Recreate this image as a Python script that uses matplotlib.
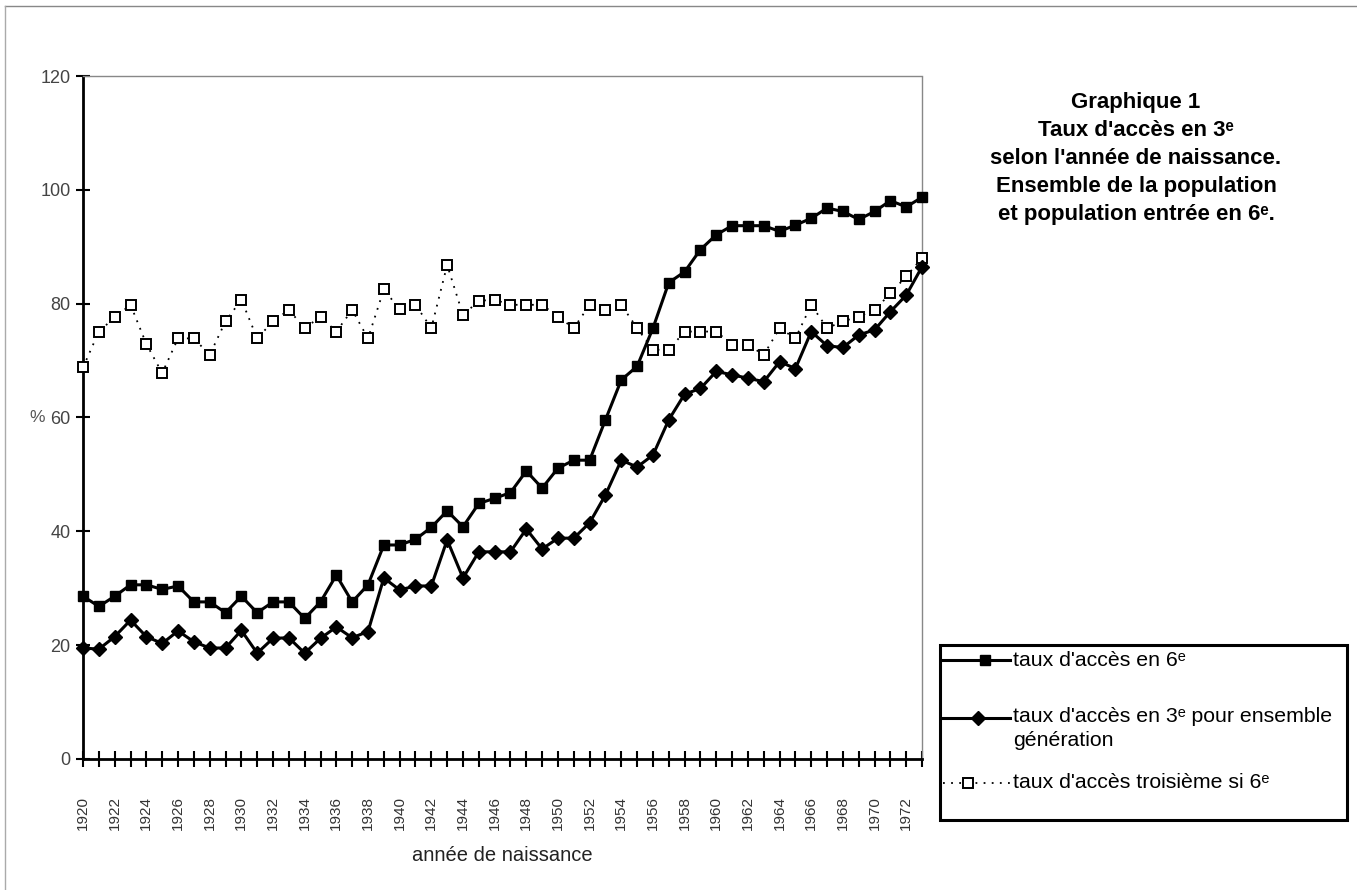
import matplotlib
matplotlib.use("Agg")
import matplotlib.pyplot as plt
from matplotlib.lines import Line2D
from matplotlib.patches import Rectangle

plt.rcParams['font.family'] = ['Liberation Sans', 'DejaVu Sans']

# annees de naissance
annees = list(range(1920, 1974))

# taux d'acces en 6e
acces_6e = [28.6, 26.8, 28.6, 30.6, 30.6, 29.8, 30.4, 27.6, 27.6, 25.7,
            28.6, 25.7, 27.6, 27.6, 24.7, 27.6, 32.3, 27.6, 30.6, 37.6,
            37.6, 38.6, 40.7, 43.6, 40.8, 44.9, 45.8, 46.8, 50.6, 47.6,
            51.1, 52.5, 52.5, 59.6, 66.6, 69.0, 75.7, 83.7, 85.6, 89.5,
            92.1, 93.7, 93.7, 93.7, 92.7, 93.8, 95.0, 96.8, 96.2, 94.8,
            96.2, 98.1, 97.0, 98.7]

# taux d'acces en 3e pour l'ensemble de la generation
acces_3e = [19.5, 19.3, 21.5, 24.4, 21.5, 20.3, 22.5, 20.6, 19.5, 19.5,
            22.6, 18.6, 21.2, 21.3, 18.6, 21.2, 23.2, 21.3, 22.4, 31.8,
            29.7, 30.4, 30.4, 38.5, 31.8, 36.4, 36.4, 36.4, 40.4, 36.9,
            38.8, 38.8, 41.5, 46.4, 52.5, 51.3, 53.4, 59.6, 64.1, 65.1,
            68.1, 67.5, 66.9, 66.3, 69.8, 68.6, 75.1, 72.6, 72.3, 74.5,
            75.4, 78.6, 81.5, 86.5]

# taux d'acces en troisieme si entre en 6e
troisieme_si_6e = [68.8, 75.1, 77.6, 79.8, 72.9, 67.8, 73.9, 73.9, 71.0, 76.9,
                   80.7, 73.9, 76.9, 78.9, 75.7, 77.7, 75.1, 78.9, 73.9, 82.5,
                   79.0, 79.8, 75.7, 86.8, 78.0, 80.5, 80.7, 79.8, 79.8, 79.8,
                   77.7, 75.7, 79.8, 78.9, 79.8, 75.7, 71.9, 71.9, 75.1, 75.1,
                   75.1, 72.8, 72.8, 71.0, 75.7, 73.9, 79.8, 75.7, 76.9, 77.7,
                   78.9, 81.8, 84.8, 88.0]

labels = ["taux d'accès en 6ᵉ",
          "taux d'accès en 3ᵉ pour ensemble\ngénération",
          "taux d'accès troisième si 6ᵉ"]

fig = plt.figure(figsize=(13.57, 8.90), dpi=100)
ax = fig.add_axes([0.0612, 0.1472, 0.6183, 0.7674])

s1 = dict(color='black', lw=2.2, marker='s', ms=6.5, clip_on=False, zorder=3)
s2 = dict(color='black', lw=2.2, marker='D', ms=7.5, clip_on=False, zorder=3)
s3 = dict(color='black', lw=1.3, ls=(0, (1, 3.5)), marker='s', ms=7,
          mfc='white', mec='black', mew=1.4, clip_on=False, zorder=3)

ax.plot(annees, troisieme_si_6e, **s3)
ax.plot(annees, acces_6e, **s1)
ax.plot(annees, acces_3e, **s2)

ax.set_xlim(1920, 1973)
ax.set_ylim(0, 120)
ax.set_yticks(range(0, 121, 20))
ax.set_xticks(annees)
ax.set_xticklabels([str(a) if a % 2 == 0 else '' for a in annees], rotation=90)

ax.tick_params(axis='x', direction='inout', length=11, width=1.5, pad=21,
               labelsize=11, labelcolor='#333333')
ax.tick_params(axis='y', direction='inout', length=10, width=1.5, pad=4,
               labelsize=13, labelcolor='#444444')

for side in ('left', 'bottom'):
    ax.spines[side].set_linewidth(2)
for side in ('top', 'right'):
    ax.spines[side].set_linewidth(1)
    ax.spines[side].set_color('#888888')
    ax.spines[side].set_linestyle((0, (2, 1)))

ax.set_xlabel("année de naissance", fontsize=14.5, color='#222222', labelpad=12)
fig.text(0.022, 1 - 418 / 890, '%', fontsize=12.5, color='#555555', va='center')

fig.text(1136 / 1357, 1 - 92 / 890,
         "Graphique 1\nTaux d'accès en 3ᵉ\nselon l'année de naissance.\n"
         "Ensemble de la population\net population entrée en 6ᵉ.",
         ha='center', va='top', fontsize=16, fontweight='bold', linespacing=1.43)

# cadre exterieur (haut et gauche)
fig.add_artist(Line2D([5 / 1357, 1], [1 - 6 / 890, 1 - 6 / 890], color='#888888', lw=1))
fig.add_artist(Line2D([5 / 1357, 5 / 1357], [0.0, 1 - 6 / 890], color='#aaaaaa', lw=1))

# legende
W, H = 1357.0, 890.0
fig.add_artist(Rectangle((940 / W, 1 - 820 / H), 407 / W, 175 / H, transform=fig.transFigure,
                         fill=False, edgecolor='black', lw=2.2))
styles = [s1, s2, s3]
rows = [660, 718, 783]
markx = [985, 978, 968]
for st, lab, y, mx in zip(styles, labels, rows, markx):
    yf = 1 - y / H
    line_st = {k: v for k, v in st.items() if k in ('color', 'lw', 'ls')}
    fig.add_artist(Line2D([943 / W, 1010 / W], [yf, yf], **line_st))
    mark_st = {k: v for k, v in st.items() if k in ('marker', 'ms', 'mfc', 'mec', 'mew', 'color')}
    fig.add_artist(Line2D([mx / W], [yf], ls='none', **mark_st))
    if '\n' in lab:
        fig.text(1013 / W, yf + 11 / H, lab, fontsize=15.3, va='top', linespacing=1.3)
    else:
        fig.text(1013 / W, yf, lab, fontsize=15.3, va='center')

fig.savefig("out.png", dpi=100)
